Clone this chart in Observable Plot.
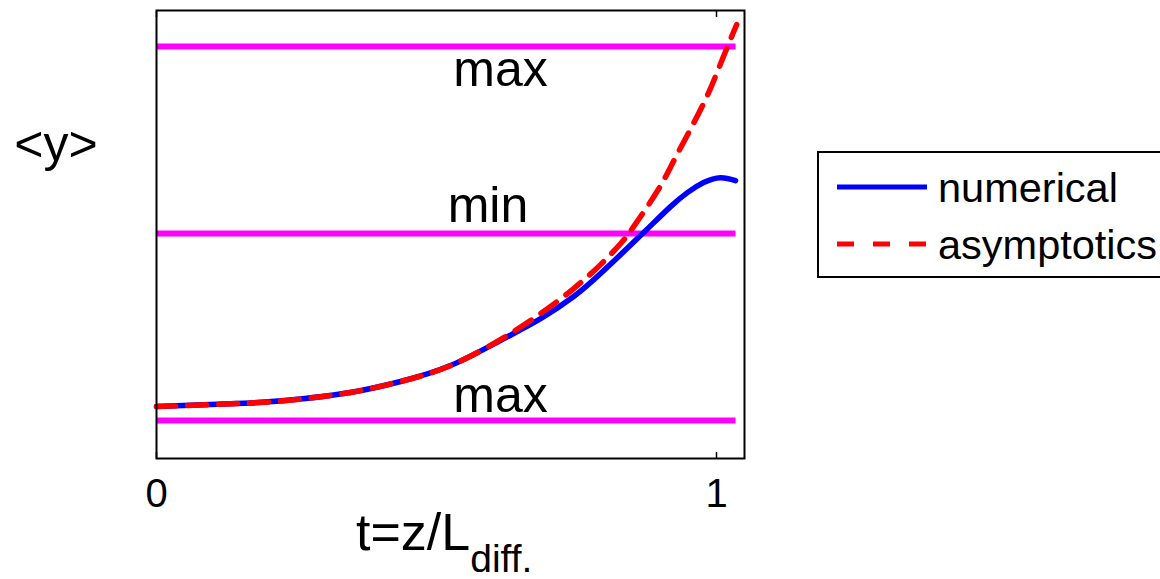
<!DOCTYPE html>
<html>
<head>
<meta charset="utf-8">
<script src="https://cdn.jsdelivr.net/npm/d3@7"></script>
<script src="https://cdn.jsdelivr.net/npm/@observablehq/plot@0.6"></script>
<style>
  html, body { margin: 0; padding: 0; background: #fff; overflow: hidden; }
  #wrap { position: relative; width: 1160px; height: 579px; overflow: hidden; }
  #overlay { position: absolute; left: 0; top: 0; pointer-events: none; }
  text { font-family: "Liberation Sans", Arial, Helvetica, sans-serif; }
</style>
</head>
<body>
<div id="wrap"></div>
<script>
// ---- data ----
const tNumerical = [0, 0.168, 0.257, 0.346, 0.436, 0.525, 0.614, 0.686, 0.745, 0.793, 0.868, 0.918, 0.948, 0.977, 1.007, 1.034];
const yNumerical = [0.075, 0.094, 0.115, 0.150, 0.209, 0.294, 0.428, 0.545, 0.663, 0.786, 1.000, 1.144, 1.219, 1.273, 1.299, 1.283];

const tAsymptotic = [0, 0.168, 0.257, 0.346, 0.436, 0.525, 0.614, 0.686, 0.745, 0.793, 0.829, 0.852, 0.895, 0.923, 0.957, 0.986, 1.011, 1.036];
const yAsymptotic = [0.075, 0.094, 0.115, 0.150, 0.209, 0.294, 0.433, 0.572, 0.706, 0.834, 0.947, 1.037, 1.230, 1.385, 1.578, 1.754, 1.936, 2.118];

const levelNames = ["max", "min", "max"];
const levelValues = [0, 1, 2];
const levelSpan = [0, 1.034];

const xTicks = [0, 1];
const xTickLabels = ["0", "1"];

const seriesNames = ["numerical", "asymptotics"];
const seriesColors = ["#0000ff", "#ff0000"];
const levelColor = "#ff00ff";

// ---- tables ----
const numerical = tNumerical.map((t, i) => ({t, y: yNumerical[i]}));
const asymptotic = tAsymptotic.map((t, i) => ({t, y: yAsymptotic[i]}));
const levels = levelValues.flatMap((v, i) => levelSpan.map(t => ({t, y: v, id: i})));
const labels = levelValues.map((v, i) => ({y: v, name: levelNames[i], id: i}));

const font = '"Liberation Sans", Arial, Helvetica, sans-serif';

const chart = Plot.plot({
  width: 1160,
  height: 579,
  marginLeft: 156,
  marginRight: 416,
  marginTop: 10,
  marginBottom: 121,
  style: {fontFamily: font, background: "white", overflow: "visible"},
  x: {domain: [0, 1.05]},
  y: {domain: [-0.203, 2.193], axis: null},
  marks: [
    Plot.line(levels, {x: "t", y: "y", z: "id", stroke: levelColor, strokeWidth: 6, strokeLinecap: "butt"}),
    Plot.text(labels.filter(d => d.id === 2), {x: () => 0.53, y: "y", text: "name", textAnchor: "start", lineAnchor: "bottom", dy: 39, fontSize: 50, fill: "black"}),
    Plot.text(labels.filter(d => d.id === 1), {x: () => 0.52, y: "y", text: "name", textAnchor: "start", lineAnchor: "bottom", dy: -12, fontSize: 50, fill: "black"}),
    Plot.text(labels.filter(d => d.id === 0), {x: () => 0.53, y: "y", text: "name", textAnchor: "start", lineAnchor: "bottom", dy: -9, fontSize: 50, fill: "black"}),
    Plot.line(numerical, {x: "t", y: "y", stroke: seriesColors[0], strokeWidth: 5.5, curve: "natural"}),
    Plot.line(asymptotic, {x: "t", y: "y", stroke: seriesColors[1], strokeWidth: 5.5, strokeDasharray: "19,12", curve: "natural"}),
    Plot.axisX({anchor: "bottom", ticks: xTicks, tickFormat: d => xTickLabels[xTicks.indexOf(d)], tickSize: 0, tickPadding: 20, fontSize: 40, label: null, color: "black"}),
    Plot.axisX({anchor: "bottom", ticks: xTicks, tickFormat: () => "", tickSize: -6, label: null, strokeWidth: 1.5}),
    Plot.axisX({anchor: "top", ticks: xTicks, tickFormat: () => "", tickSize: -6, label: null, strokeWidth: 1.5}),
    Plot.frame({stroke: "black", strokeWidth: 2})
  ]
});

const wrap = document.getElementById("wrap");
wrap.appendChild(chart);

// ---- overlay: axis labels and legend ----
const ov = d3.select(wrap).append("svg")
  .attr("id", "overlay").attr("width", 1160).attr("height", 579);

ov.append("text").attr("x", 56).attr("y", 161).attr("text-anchor", "middle")
  .attr("font-size", 50).attr("fill", "black").text("<y>");

const xl = ov.append("text").attr("x", 356).attr("y", 550).attr("font-size", 52).attr("fill", "black");
xl.append("tspan").text("t=z/L");
xl.append("tspan").attr("font-size", 39).attr("dy", 22).text("diff.");

// legend
ov.append("rect").attr("x", 818).attr("y", 152).attr("width", 420).attr("height", 125)
  .attr("fill", "white").attr("stroke", "black").attr("stroke-width", 2);
const legendY = [187, 244];
seriesNames.forEach((name, i) => {
  ov.append("line").attr("x1", 837).attr("x2", 927).attr("y1", legendY[i]).attr("y2", legendY[i])
    .attr("stroke", seriesColors[i]).attr("stroke-width", 5)
    .attr("stroke-dasharray", i === 1 ? "17,19" : null);
  ov.append("text").attr("x", 938).attr("y", legendY[i] + 15).attr("font-size", 41.5)
    .attr("fill", "black").text(name);
});
</script>
</body>
</html>
